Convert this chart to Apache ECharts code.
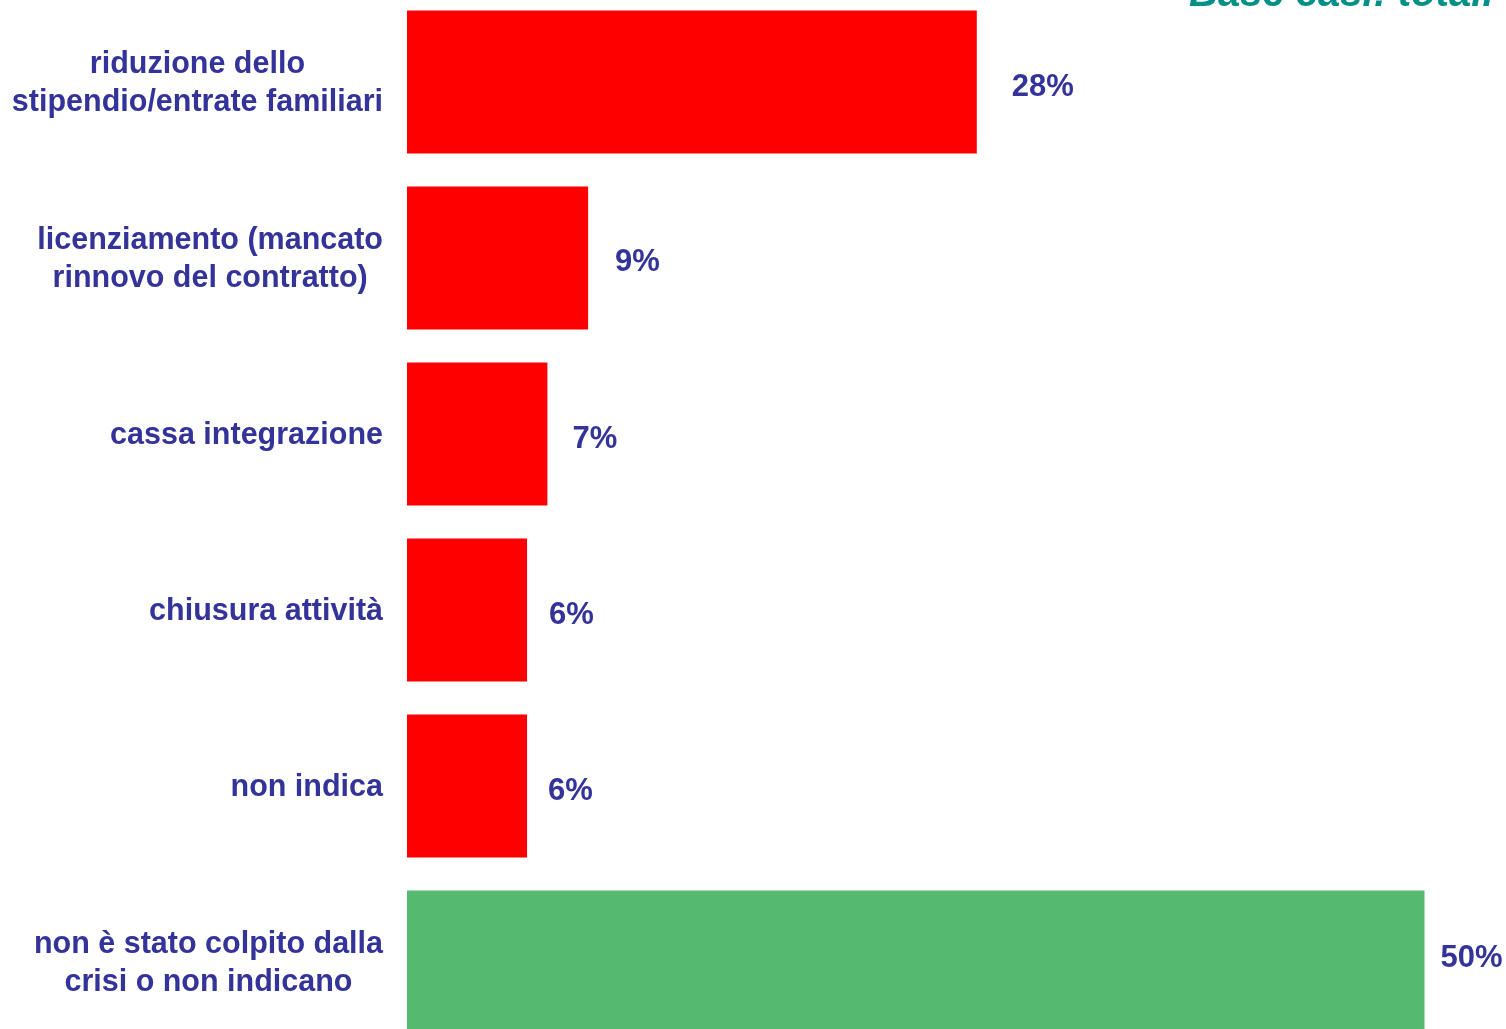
<!DOCTYPE html>
<html><head><meta charset="utf-8">
<script src="https://cdn.jsdelivr.net/npm/echarts@6/dist/echarts.min.js"></script>
<style>html,body{margin:0;padding:0;background:#fff}#c{width:1506px;height:1029px}</style>
</head><body><div id="c"></div>
<script>
const categories = [
  "riduzione dello\nstipendio/entrate familiari",
  "licenziamento (mancato\nrinnovo del contratto)",
  "cassa integrazione",
  "chiusura attività",
  "non indica",
  "non è stato colpito dalla\ncrisi o non indicano"
];
const values = [28, 8.9, 6.9, 5.9, 5.9, 50];
const barColors = ["#FF0000", "#FF0000", "#FF0000", "#FF0000", "#FF0000", "#55BA6F"];
const baseNote = "Base casi: totali";

// label gap / vertical shift per bar (style only)
const labelGaps = [35, 27, 25, 22, 21, 16];
const labelShifts = [5, 4, 5, 5, 5, -4];

const chart = echarts.init(document.getElementById('c'), null, {renderer: 'canvas'});
chart.setOption({
  animation: false,
  backgroundColor: '#ffffff',
  title: {
    text: baseNote, left: 1184, top: -30,
    textStyle: {color: '#009088', fontSize: 40, fontWeight: 'bold', fontStyle: 'italic', fontFamily: 'Liberation Sans, Arial, sans-serif'}
  },
  grid: {left: 407, top: -6, width: 1221, height: 1056, containLabel: false, outerBoundsMode: 'none'},
  xAxis: {type: 'value', min: 0, max: 60, show: false},
  yAxis: {
    type: 'category', inverse: true, data: categories,
    axisLine: {show: false}, axisTick: {show: false}, splitLine: {show: false},
    axisLabel: {
      margin: 24,
      padding: [4, 0, 0, 0],
      formatter: v => v.split('\n').map(l => '{c|' + l + '}').join('\n'),
      rich: {c: {align: 'center', color: '#333399', fontSize: 30.5, fontWeight: 'bold', fontFamily: 'Liberation Sans, Arial, sans-serif', lineHeight: 38}}
    }
  },
  series: [{
    type: 'bar', barCategoryGap: '18.8%',
    data: values.map((v, i) => ({value: v, itemStyle: {color: barColors[i]}, label: {distance: labelGaps[i], offset: [0, labelShifts[i]]}})),
    label: {
      show: true, position: 'right',
      formatter: p => Math.round(p.value) + '%',
      color: '#333399', fontSize: 31, fontWeight: 'bold', fontFamily: 'Liberation Sans, Arial, sans-serif'
    }
  }]
});
</script></body></html>
